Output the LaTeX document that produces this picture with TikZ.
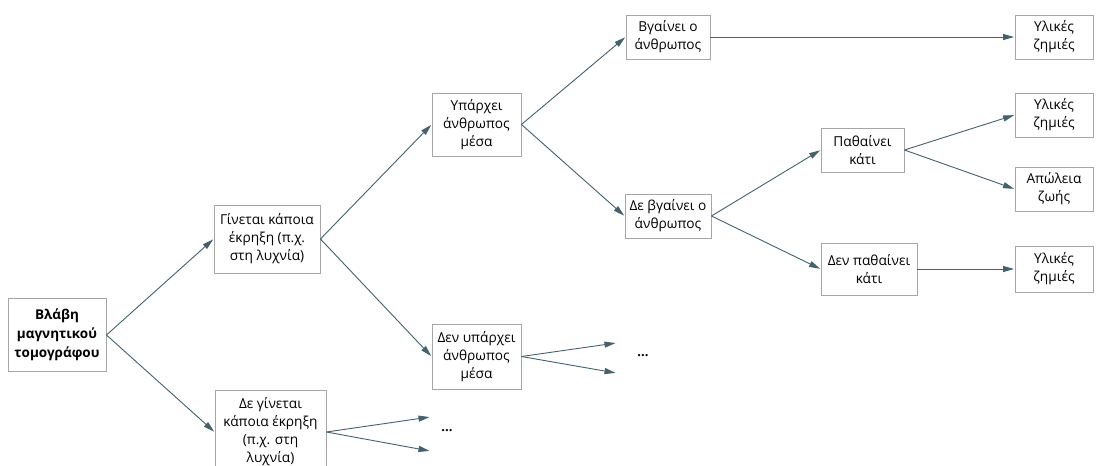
\documentclass[tikz,border=0pt]{standalone}
\usepackage{fontspec}
\setmainfont{Open Sans}
\usetikzlibrary{arrows.meta}
\definecolor{boxgray}{HTML}{A6A6A6}
\definecolor{linkc}{HTML}{44626E}
\begin{document}
\begin{tikzpicture}[x=1pt,y=-1pt,
  box/.style={draw=boxgray, line width=0.9pt, fill=white, align=center,
    inner sep=0pt, font=\fontsize{13.7}{18}\selectfont, text=black},
  link/.style={draw=linkc, line width=0.9pt,
    -{Triangle[length=11pt,width=6pt]}, shorten >=0.5pt},
  dots/.style={font=\fontsize{13}{14}\selectfont\bfseries, text=black}
]
% page frame
\fill[white] (0,0) rectangle (1096,466);
\clip (0,0) rectangle (1096,466);
\useasboundingbox (0,0) rectangle (1096,466);

% level 0
\node[box, minimum width=98pt, minimum height=73pt, font=\fontsize{13.5}{19}\selectfont\bfseries]
  (root) at (57,335) {Βλάβη\\μαγνητικού\\τομογράφου};

% level 1
\node[box, minimum width=106pt, minimum height=68pt] (expl) at (267,239)
  {Γίνεται κάποια\\έκρηξη (π.χ.\\στη λυχνία)};
\node[box, minimum width=111pt, minimum height=84pt] (noexpl) at (270.5,432)
  {Δε γίνεται\\κάποια έκρηξη\\(π.χ. στη\\λυχνία)};

% level 2
\node[box, minimum width=89pt, minimum height=63pt] (person) at (476.5,124.5)
  {Υπάρχει\\άνθρωπος\\μέσα};
\node[box, minimum width=89pt, minimum height=65pt] (noperson) at (476.5,356.5)
  {Δεν υπάρχει\\άνθρωπος\\μέσα};

% level 3
\node[box, minimum width=84pt, minimum height=44pt] (out) at (668,37)
  {Βγαίνει ο\\άνθρωπος};
\node[box, minimum width=86pt, minimum height=44pt] (noout) at (668,216)
  {Δε βγαίνει ο\\άνθρωπος};

% level 4
\node[box, minimum width=83pt, minimum height=44pt] (hurt) at (862.5,150)
  {Παθαίνει\\κάτι};
\node[box, minimum width=96pt, minimum height=52pt] (nohurt) at (869,269)
  {Δεν παθαίνει\\κάτι};

% outcomes
\node[box, minimum width=78pt, minimum height=44pt] (dmg1) at (1054,37)
  {Υλικές\\ζημιές};
\node[box, minimum width=78pt, minimum height=44pt] (dmg2) at (1054,115)
  {Υλικές\\ζημιές};
\node[box, minimum width=78pt, minimum height=44pt] (death) at (1054,189)
  {Απώλεια\\ζωής};
\node[box, minimum width=78pt, minimum height=46pt] (dmg3) at (1054,269)
  {Υλικές\\ζημιές};

% open branches
\coordinate (e1) at (616,343);
\coordinate (e2) at (616,373);
\coordinate (e3) at (430,417);
\coordinate (e4) at (430,451);
\node[dots] (d1) at (643,356) {...};
\node[dots] (d2) at (447,431) {...};

% connectors
\draw[link] (root.east) -- (expl.west);
\draw[link] (root.east) -- (noexpl.west);
\draw[link] (expl.east) -- (person.west);
\draw[link] (expl.east) -- (noperson.west);
\draw[link] (person.east) -- (out.west);
\draw[link] (person.east) -- (noout.west);
\draw[link] (out.east) -- (dmg1.west);
\draw[link] (noout.east) -- (hurt.west);
\draw[link] (noout.east) -- (nohurt.west);
\draw[link] (hurt.east) -- (dmg2.west);
\draw[link] (hurt.east) -- (death.west);
\draw[link] (nohurt.east) -- (dmg3.west);
\draw[link] (noperson.east) -- (e1);
\draw[link] (noperson.east) -- (e2);
\draw[link] (noexpl.east) -- (e3);
\draw[link] (noexpl.east) -- (e4);
\end{tikzpicture}
\end{document}
